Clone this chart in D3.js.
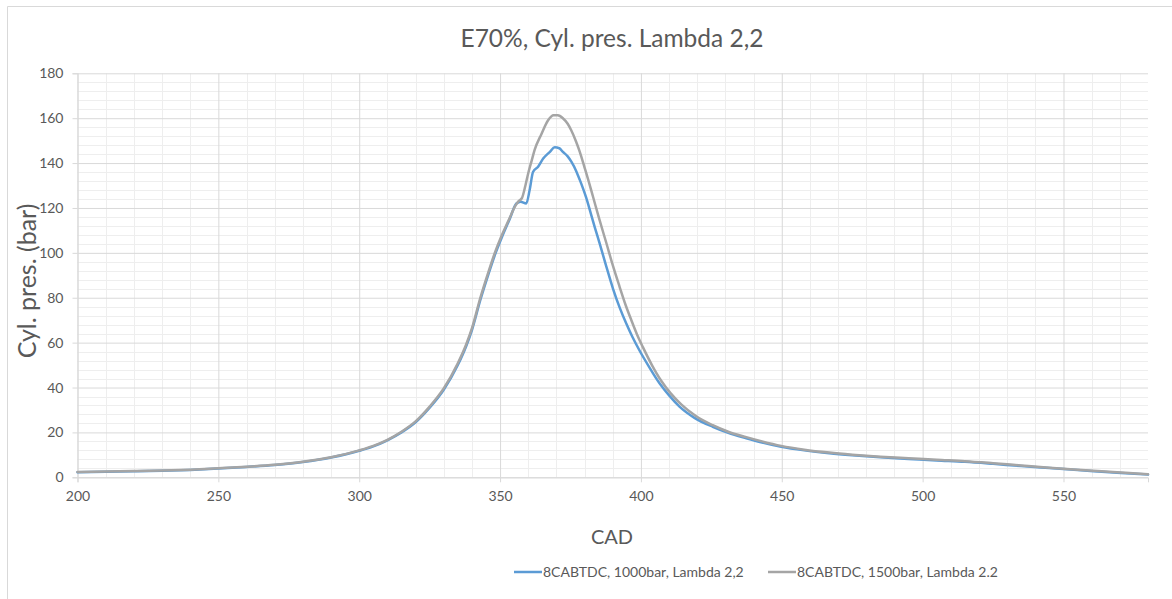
<!DOCTYPE html>
<html>
<head>
<meta charset="utf-8">
<script src="https://cdn.jsdelivr.net/npm/d3@7"></script>
<style>
  html, body { margin: 0; padding: 0; background: #ffffff; }
  svg { display: block; }
  text { font-family: Lato, "Open Sans", sans-serif; fill: #595959; }
</style>
</head>
<body>
<svg id="chart" width="1172" height="599"></svg>
<script>
// Crank angle (CAD) and cylinder pressure (bar), 1000 bar injection
const cad1000 = [200,210,220,230,240,250,260,270,280,290,300,305,310,315,320,325,330,335,338,340,343,346,348,350.5,353.4,355.8,357.3,359.3,360.5,361.7,363.5,365.3,367.7,369.4,371,372.3,374,375.3,377,378.3,379.5,380.6,382,383.6,385.4,387.7,390.1,392.5,394.8,397,399.5,403,406.6,410,413.7,419,425.5,431,437.4,443,449.8,458,466.9,475,485,495,505,515,525,535,545,555,565,572,580];
const p1000 = [2.3,2.5,2.7,2.9,3.3,3.9,4.6,5.5,6.8,8.8,11.8,13.8,16.5,20,24.5,31,39,50,58.5,65.5,79,91,98.5,106.5,115,122,122.8,122,128,136,138.4,142,145,147,146.6,145,143,140.6,136.5,132.5,128.5,124.5,118.5,111.5,104,94,84,75.5,68.5,62.5,56.5,49,41.9,36.5,31.5,26.5,22.5,19.8,17.4,15.5,13.6,12,10.7,9.8,8.9,8.2,7.5,6.9,6.0,5.0,4.1,3.2,2.4,1.8,1.2];

// Crank angle (CAD) and cylinder pressure (bar), 1500 bar injection
const cad1500 = [200,210,220,230,240,250,260,270,280,290,300,305,310,315,320,325,330,335,338,340,343,346,348,350.5,353.4,355.2,356.4,357.8,359,360,361.2,362.3,364.7,367,369,370.5,372.3,374,375.3,377,378.3,380,381.2,383,385,387.7,390,392.4,394.5,396.6,398.5,400.7,404,407.2,410.5,414.3,419.5,425.5,431,437.4,443,449.8,458,466.9,475,485,495,505,515,525,535,545,555,565,572,580];
const p1500 = [2.4,2.6,2.8,3.0,3.4,4.0,4.7,5.6,6.9,8.9,12,14,16.7,20.3,24.9,31.5,39.6,50.8,59.3,66.3,80,92,99.5,107.5,115.5,120.5,122.8,124.5,130,135.5,141,146,153,159,161.3,161.3,160,157.5,154.5,149.5,145,138,133,125,116,104.5,94.5,85,77,70,64,58,49.8,43,37.5,32.5,27.3,23.2,20.3,17.9,16,14,12.3,11,10.1,9.2,8.5,7.8,7.2,6.3,5.3,4.3,3.4,2.6,2.0,1.4];

const seriesNames = ["8CABTDC, 1000bar, Lambda 2,2", "8CABTDC, 1500bar, Lambda 2.2"];
const seriesColors = ["#5b9bd5", "#a5a5a5"];

const xTicks = [200,250,300,350,400,450,500,550];
const yTicks = [0,20,40,60,80,100,120,140,160,180];

const chartTitle = "E70%, Cyl. pres. Lambda 2,2";
const xTitle = "CAD";
const yTitle = "Cyl. pres. (bar)";

const svg = d3.select("#chart");

// chart frame
svg.append("path")
  .attr("d", "M7.5,599 L7.5,6.5 L1172,6.5")
  .attr("fill", "none").attr("stroke", "#d9d9d9").attr("stroke-width", 1);

const plot = { left: 77.5, right: 1148, top: 73.3, bottom: 477.3 };
const x = d3.scaleLinear().domain([200, 580]).range([plot.left, plot.right]);
const y = d3.scaleLinear().domain([0, 180]).range([plot.bottom, plot.top]);

// minor gridlines
const g = svg.append("g");
g.selectAll(".mx").data(d3.range(210, 580, 10).filter(v => v % 50 !== 0))
  .join("line")
  .attr("x1", d => Math.round(x(d)) + 0.5).attr("x2", d => Math.round(x(d)) + 0.5)
  .attr("y1", plot.top).attr("y2", plot.bottom)
  .attr("stroke", "#eeeeee").attr("stroke-width", 1);
g.selectAll(".my").data(d3.range(4, 180, 4).filter(v => v % 20 !== 0))
  .join("line")
  .attr("y1", d => Math.round(y(d)) + 0.5).attr("y2", d => Math.round(y(d)) + 0.5)
  .attr("x1", plot.left).attr("x2", plot.right)
  .attr("stroke", "#eeeeee").attr("stroke-width", 1);

// major gridlines via axes
const xAxis = d3.axisBottom(x).tickValues(xTicks).tickSize(-(plot.bottom - plot.top)).tickFormat("");
const yAxis = d3.axisLeft(y).tickValues(yTicks).tickSize(-(plot.right - plot.left)).tickFormat("");
svg.append("g").attr("transform", `translate(0,${plot.bottom})`).call(xAxis)
  .call(a => a.select(".domain").remove())
  .call(a => a.selectAll("line").attr("stroke", "#d9d9d9"));
svg.append("g").attr("transform", `translate(${plot.left},0)`).call(yAxis)
  .call(a => a.select(".domain").remove())
  .call(a => a.selectAll("line").attr("stroke", "#d9d9d9"));

// axes with outward ticks and labels
const xAxisL = d3.axisBottom(x).tickValues(xTicks).tickSize(5).tickPadding(9);
const yAxisL = d3.axisLeft(y).tickValues(yTicks).tickSize(5).tickPadding(9);
svg.append("g").attr("transform", `translate(0,${plot.bottom})`).call(xAxisL)
  .call(a => a.select(".domain").attr("stroke", "#d9d9d9"))
  .call(a => a.selectAll("line").attr("stroke", "#d9d9d9"))
  .call(a => a.selectAll("text").attr("font-size", 14).attr("font-family", "Lato").attr("fill", "#595959"));
svg.append("g").attr("transform", `translate(${plot.left},0)`).call(yAxisL)
  .call(a => a.select(".domain").attr("stroke", "#d9d9d9"))
  .call(a => a.selectAll("line").attr("stroke", "#d9d9d9"))
  .call(a => a.selectAll("text").attr("font-size", 14).attr("font-family", "Lato").attr("fill", "#595959"));

// series lines
const series = [
  { name: seriesNames[0], color: seriesColors[0], pts: cad1000.map((c, i) => [c, p1000[i]]) },
  { name: seriesNames[1], color: seriesColors[1], pts: cad1500.map((c, i) => [c, p1500[i]]) }
];
const line = d3.line().x(d => x(d[0])).y(d => y(d[1])).curve(d3.curveMonotoneX);
svg.append("g").selectAll("path").data(series).join("path")
  .attr("d", d => line(d.pts))
  .attr("fill", "none")
  .attr("stroke", d => d.color)
  .attr("stroke-width", 2.5)
  .attr("stroke-linejoin", "round")
  .attr("stroke-linecap", "round");

// titles
svg.append("text").attr("x", 612).attr("y", 47).attr("text-anchor", "middle")
  .attr("font-size", 24.5).text(chartTitle);
svg.append("text").attr("x", 612).attr("y", 544).attr("text-anchor", "middle")
  .attr("font-size", 20).text(xTitle);
svg.append("text").attr("transform", "translate(36,281) rotate(-90)").attr("text-anchor", "middle")
  .attr("font-size", 25).text(yTitle);

// legend
const legendX = [514, 768];
const lg = svg.append("g").selectAll("g").data(series).join("g")
  .attr("transform", (d, i) => `translate(${legendX[i]},572)`);
lg.append("line").attr("x1", 0).attr("x2", 28).attr("y1", 0).attr("y2", 0)
  .attr("stroke", d => d.color).attr("stroke-width", 2.5);
lg.append("text").attr("x", 29).attr("y", 0).attr("dy", "0.35em")
  .attr("font-size", 14).text(d => d.name);
</script>
</body>
</html>
